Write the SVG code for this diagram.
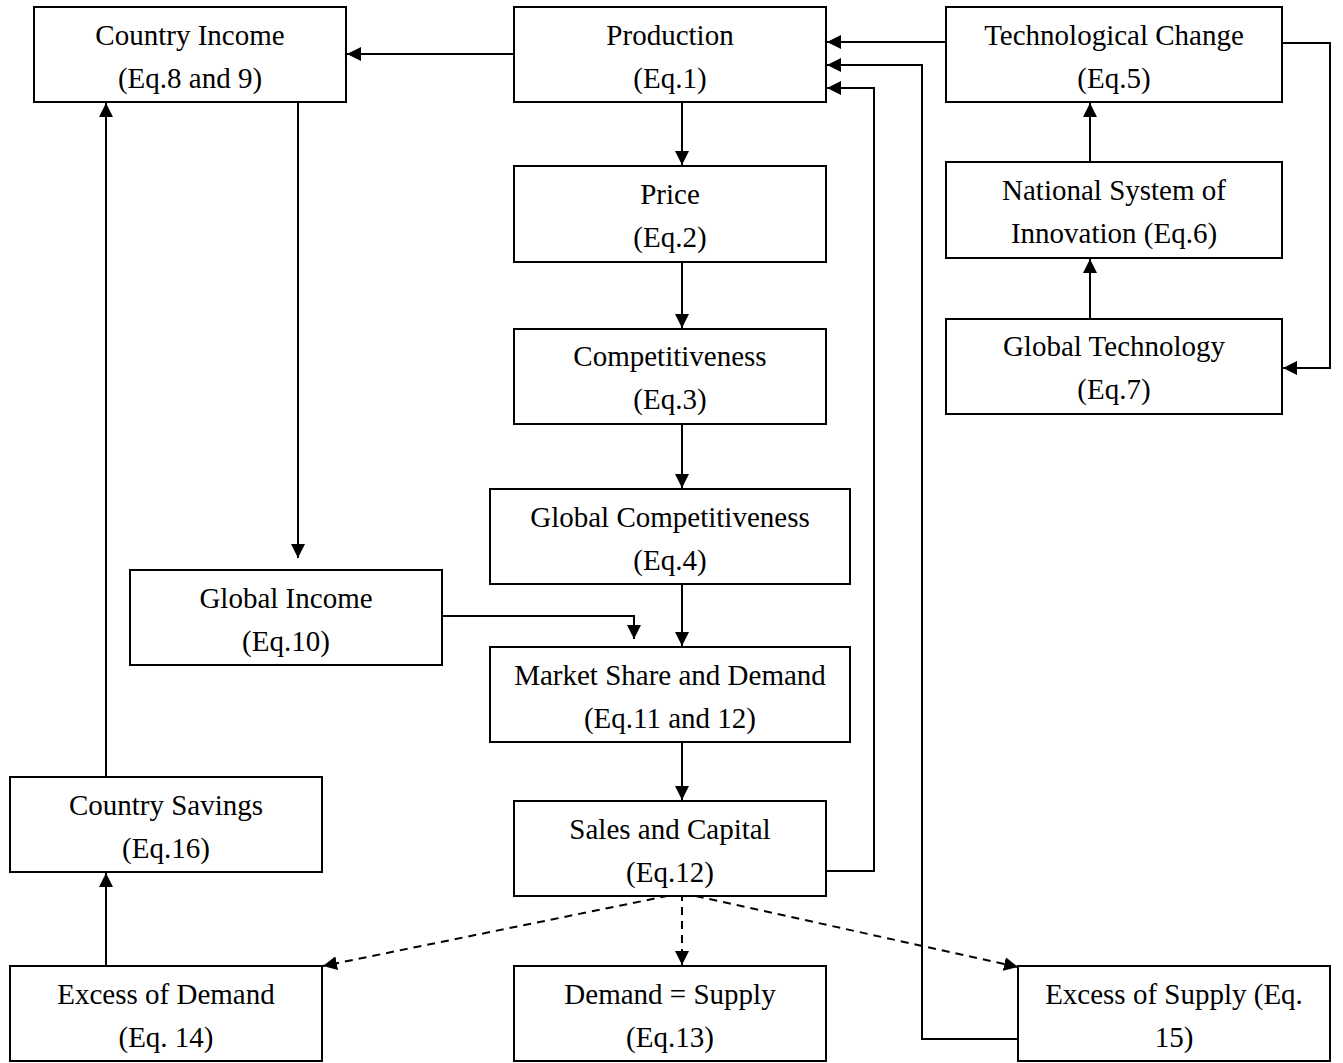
<svg xmlns="http://www.w3.org/2000/svg" width="1343" height="1063" viewBox="0 0 1343 1063">
<style>
.box{fill:#fff;stroke:#000;stroke-width:2}
.t{font-family:"Liberation Serif","Times New Roman",serif;font-size:29px;fill:#000;text-anchor:middle}
.c{fill:none;stroke:#000;stroke-width:2}
.d{fill:none;stroke:#000;stroke-width:2;stroke-dasharray:8,6}
</style>
<defs>
<marker id="a" viewBox="0 0 14 14" refX="14" refY="7" markerWidth="14" markerHeight="14" markerUnits="userSpaceOnUse" orient="auto">
<path d="M0,0 L14,7 L0,14 Z" fill="#000"/>
</marker>
</defs>
<rect width="1343" height="1063" fill="#fff"/>
<g id="connectors">
<path class="c" d="M514,54 H347" marker-end="url(#a)"/>
<path class="c" d="M946,42 H827" marker-end="url(#a)"/>
<path class="c" d="M1018,1039 H922 V65 H827" marker-end="url(#a)"/>
<path class="c" d="M826,871 H874 V88 H827" marker-end="url(#a)"/>
<path class="c" d="M1282,43 H1330 V368 H1283" marker-end="url(#a)"/>
<path class="c" d="M1090,319 V259" marker-end="url(#a)"/>
<path class="c" d="M1090,162 V103" marker-end="url(#a)"/>
<path class="c" d="M682,102 V165" marker-end="url(#a)"/>
<path class="c" d="M682,262 V328" marker-end="url(#a)"/>
<path class="c" d="M682,424 V488" marker-end="url(#a)"/>
<path class="c" d="M682,584 V646" marker-end="url(#a)"/>
<path class="c" d="M682,742 V800" marker-end="url(#a)"/>
<path class="c" d="M298,102 V558" marker-end="url(#a)"/>
<path class="c" d="M442,616 H634 V639" marker-end="url(#a)"/>
<path class="c" d="M106,777 V103" marker-end="url(#a)"/>
<path class="c" d="M106,966 V873" marker-end="url(#a)"/>
<path class="d" d="M682,893 L323,966" marker-end="url(#a)"/>
<path class="d" d="M682,893 V965" marker-end="url(#a)"/>
<path class="d" d="M682,893 L1018,967" marker-end="url(#a)"/>
</g>
<g id="country-income"><rect class="box" x="34" y="7" width="312" height="95"/><text class="t" x="190" y="45">Country Income</text><text class="t" x="190" y="88">(Eq.8 and 9)</text></g>
<g id="production"><rect class="box" x="514" y="7" width="312" height="95"/><text class="t" x="670" y="45">Production</text><text class="t" x="670" y="88">(Eq.1)</text></g>
<g id="technological-change"><rect class="box" x="946" y="7" width="336" height="95"/><text class="t" x="1114" y="45">Technological Change</text><text class="t" x="1114" y="88">(Eq.5)</text></g>
<g id="price"><rect class="box" x="514" y="166" width="312" height="96"/><text class="t" x="670" y="204">Price</text><text class="t" x="670" y="247">(Eq.2)</text></g>
<g id="national-system"><rect class="box" x="946" y="162" width="336" height="96"/><text class="t" x="1114" y="200">National System of</text><text class="t" x="1114" y="243">Innovation (Eq.6)</text></g>
<g id="global-technology"><rect class="box" x="946" y="319" width="336" height="95"/><text class="t" x="1114" y="356">Global Technology</text><text class="t" x="1114" y="399">(Eq.7)</text></g>
<g id="competitiveness"><rect class="box" x="514" y="329" width="312" height="95"/><text class="t" x="670" y="366">Competitiveness</text><text class="t" x="670" y="409">(Eq.3)</text></g>
<g id="global-competitiveness"><rect class="box" x="490" y="489" width="360" height="95"/><text class="t" x="670" y="527">Global Competitiveness</text><text class="t" x="670" y="570">(Eq.4)</text></g>
<g id="global-income"><rect class="box" x="130" y="570" width="312" height="95"/><text class="t" x="286" y="608">Global Income</text><text class="t" x="286" y="651">(Eq.10)</text></g>
<g id="market-share"><rect class="box" x="490" y="647" width="360" height="95"/><text class="t" x="670" y="685">Market Share and Demand</text><text class="t" x="670" y="728">(Eq.11 and 12)</text></g>
<g id="country-savings"><rect class="box" x="10" y="777" width="312" height="95"/><text class="t" x="166" y="815">Country Savings</text><text class="t" x="166" y="858">(Eq.16)</text></g>
<g id="sales-capital"><rect class="box" x="514" y="801" width="312" height="95"/><text class="t" x="670" y="839">Sales and Capital</text><text class="t" x="670" y="882">(Eq.12)</text></g>
<g id="excess-demand"><rect class="box" x="10" y="966" width="312" height="95"/><text class="t" x="166" y="1004">Excess of Demand</text><text class="t" x="166" y="1047">(Eq. 14)</text></g>
<g id="demand-supply"><rect class="box" x="514" y="966" width="312" height="95"/><text class="t" x="670" y="1004">Demand = Supply</text><text class="t" x="670" y="1047">(Eq.13)</text></g>
<g id="excess-supply"><rect class="box" x="1018" y="966" width="312" height="95"/><text class="t" x="1174" y="1004">Excess of Supply (Eq.</text><text class="t" x="1174" y="1047">15)</text></g>
</svg>
